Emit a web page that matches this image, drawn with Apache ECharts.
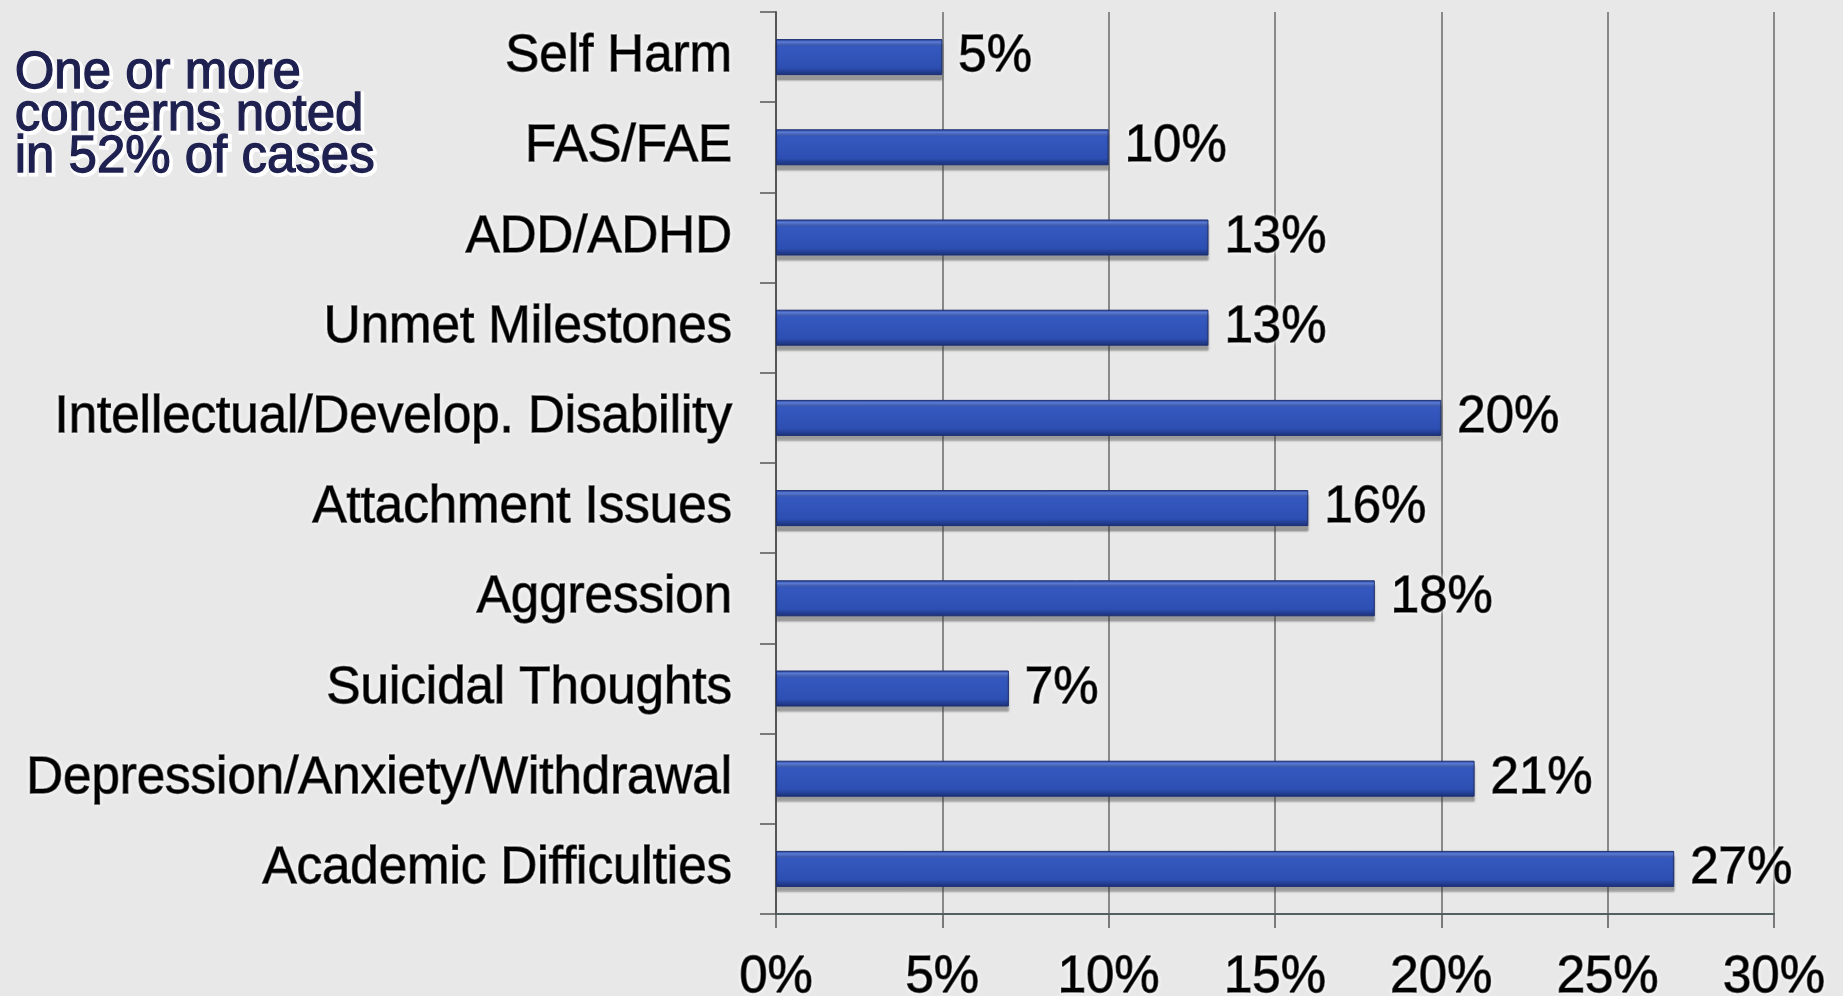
<!DOCTYPE html>
<html>
<head>
<meta charset="utf-8">
<title>Concerns noted</title>
<script src="https://cdn.jsdelivr.net/npm/echarts@6/dist/echarts.min.js"></script>
<style>
  html, body { margin: 0; padding: 0; background: #e8e8e8; }
  #chart { width: 1843px; height: 996px; }
</style>
</head>
<body>
<div id="chart"></div>
<script>
// Categories, top to bottom
const categories = [
  'Self Harm',
  'FAS/FAE',
  'ADD/ADHD',
  'Unmet Milestones',
  'Intellectual/Develop. Disability',
  'Attachment Issues',
  'Aggression',
  'Suicidal Thoughts',
  'Depression/Anxiety/Withdrawal',
  'Academic Difficulties'
];
// Share of cases (%)
const percentValues = [5, 10, 13, 13, 20, 16, 18, 7, 21, 27];
// Value axis range and step (%)
const axisMin = 0;
const axisMax = 30;
const axisStep = 5;
const noteLines = ['One or more', 'concerns noted', 'in 52% of cases'];

const FONT = '"Liberation Sans", Arial, sans-serif';
const chart = echarts.init(document.getElementById('chart'), null, { renderer: 'canvas' });

// Heavy black text with a soft white halo
const textLook = {
  fontFamily: FONT,
  fontSize: 51,
  color: '#000',
  textBorderColor: '#000',
  textBorderWidth: 1.3,
  textShadowColor: '#ffffff',
  textShadowBlur: 5
};

const barFill = new echarts.graphic.LinearGradient(0, 0, 0, 1, [
  { offset: 0, color: '#1f3a8c' },
  { offset: 0.08, color: '#5b7bd6' },
  { offset: 0.2, color: '#3559c0' },
  { offset: 0.8, color: '#2d4fb3' },
  { offset: 1, color: '#1a2f75' }
]);

const noteText = noteLines.join('\n');
const noteBase = { fontFamily: FONT, fontSize: 51, lineHeight: 42, text: noteText };

chart.setOption({
  backgroundColor: '#e8e8e8',
  animation: false,
  grid: {
    left: 776, right: 69, top: 12, bottom: 82,
    containLabel: false,
    outerBoundsMode: 'none'
  },
  xAxis: {
    type: 'value',
    min: axisMin,
    max: axisMax,
    interval: axisStep,
    axisLine: { show: true, lineStyle: { color: '#52605f', width: 2 } },
    axisTick: { show: true, length: 14, lineStyle: { color: '#555', width: 1.5 } },
    splitLine: { show: true, lineStyle: { color: '#6a6a6a', width: 1.5 } },
    axisLabel: Object.assign({ formatter: v => v + '%', margin: 38 }, textLook)
  },
  yAxis: {
    type: 'category',
    data: categories,
    inverse: true,
    axisLine: { show: true, lineStyle: { color: '#555', width: 2 } },
    axisTick: { show: true, length: 16, lineStyle: { color: '#555', width: 1.5 } },
    splitLine: { show: false },
    axisLabel: Object.assign({ margin: 44 }, textLook)
  },
  series: [{
    type: 'bar',
    data: percentValues,
    barWidth: 36,
    itemStyle: {
      color: barFill,
      borderColor: '#1c2f72',
      borderWidth: 1,
      shadowColor: 'rgba(60,60,60,0.45)',
      shadowOffsetY: 5,
      shadowBlur: 2
    },
    label: Object.assign({
      show: true,
      position: 'right',
      distance: 16,
      formatter: p => p.value + '%'
    }, textLook)
  }],
  graphic: [
    {
      type: 'text',
      left: 14,
      top: 48,
      z: 10,
      style: Object.assign({ fill: '#ffffff', stroke: '#ffffff', lineWidth: 5 }, noteBase)
    },
    {
      type: 'text',
      left: 14,
      top: 48,
      z: 11,
      style: Object.assign({ fill: '#1e2050', stroke: '#1e2050', lineWidth: 1.3 }, noteBase)
    }
  ]
});
</script>
</body>
</html>
